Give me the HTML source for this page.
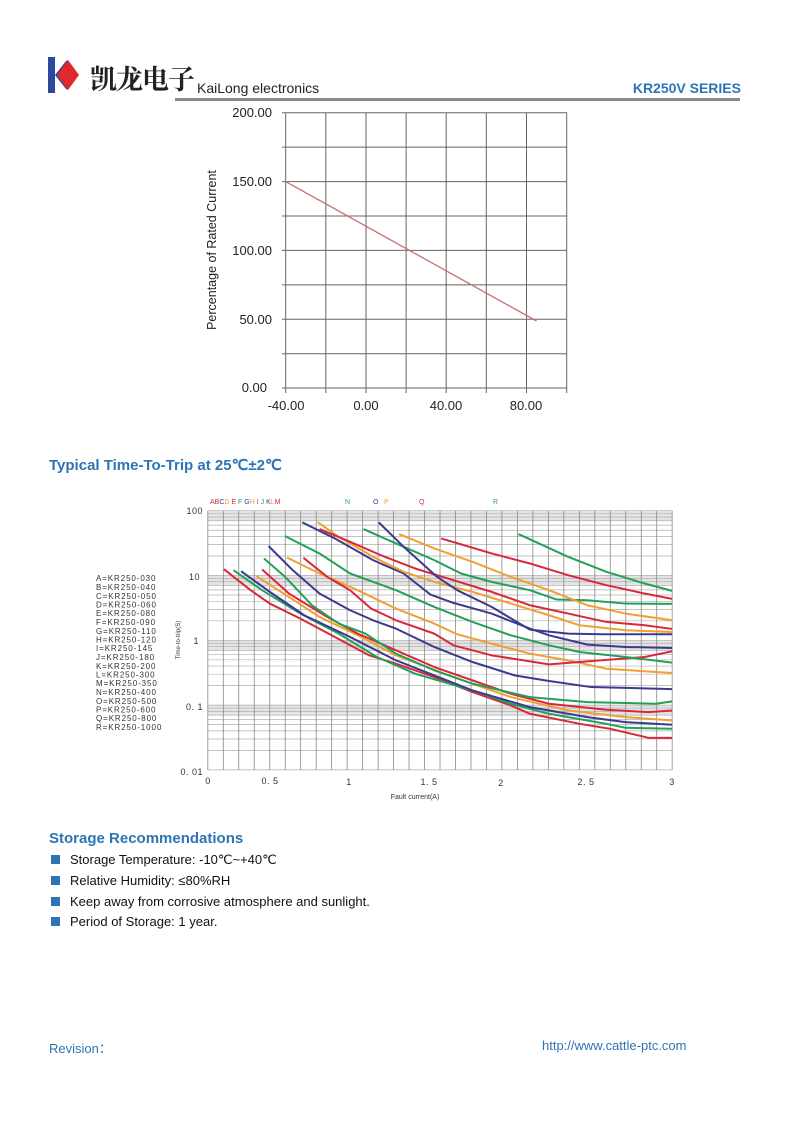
<!DOCTYPE html>
<html><head><meta charset="utf-8"><style>
body{margin:0;background:#fff}
#p{position:relative;width:793px;height:1122px;overflow:hidden;font-family:"Liberation Sans",Arial,sans-serif;background:#fff}
.a{position:absolute;white-space:nowrap}
.h{color:#2e74b5;font-weight:bold;font-size:15px}
.b{font-size:13px;color:#111}
.sq{position:absolute;width:9px;height:9px;background:#2e74b5}
</style></head><body><div id="p">
<svg class="a" style="left:46px;top:56px" width="34" height="38"><rect x="2" y="1" width="7" height="36" fill="#2b4a9e"/><polygon points="9,19 22,4 33,19 22,34" fill="#e0282e"/><polygon points="9,19 20,5 22,4 11,19 22,34 20,33" fill="#2b4a9e"/></svg>
<div class="a" style="left:90px;top:58px;font-size:27px;font-weight:bold;font-family:'Noto Serif CJK SC','Noto Sans CJK SC',serif;color:#222;letter-spacing:-1px">凯龙电子</div>
<div class="a" style="left:197px;top:80px;font-size:14px;color:#222">KaiLong electronics</div>
<div class="a" style="right:52px;top:80px;font-size:14px;font-weight:bold;color:#2e74b5">KR250V SERIES</div>
<div class="a" style="left:175px;top:98px;width:565px;height:3px;background:#8a8a8a"></div>

<svg class="a" style="left:0;top:0" width="793" height="440">
<g stroke="#666" stroke-width="1" fill="none">
<path d="M282 112.7H567M282 147.1H567M282 181.6H567M282 216H567M282 250.4H567M282 284.9H567M282 319.3H567M282 353.7H567M282 388H567"/>
<path d="M285.7 112.7V393M325.8 112.7V393M366 112.7V393M406.1 112.7V393M446.2 112.7V393M486.3 112.7V393M526.5 112.7V393M566.7 112.7V393"/>
</g>
<line x1="285.7" y1="181.6" x2="536.5" y2="321" stroke="#c9706e" stroke-width="1.3"/>
<g font-size="13" fill="#222" text-anchor="end">
<text x="272" y="117">200.00</text><text x="272" y="186">150.00</text><text x="272" y="255">100.00</text><text x="272" y="324">50.00</text><text x="267" y="392">0.00</text>
</g>
<g font-size="13" fill="#222" text-anchor="middle">
<text x="286" y="410">-40.00</text><text x="366" y="410">0.00</text><text x="446" y="410">40.00</text><text x="526" y="410">80.00</text>
</g>
<text transform="translate(216,250) rotate(-90)" font-size="12.5" fill="#222" text-anchor="middle">Percentage of Rated Current</text>
</svg>

<div class="a h" style="left:49px;top:456px">Typical Time-To-Trip at 25℃±2℃</div>

<svg class="a" style="left:0;top:0" width="793" height="820">
<g transform="matrix(0.3825,0,0,0.334,90,490)">
<g fill="#e4e4e4">
<rect x="308" y="62" width="1214" height="30"/><rect x="308" y="256" width="1214" height="30"/><rect x="308" y="450" width="1214" height="30"/><rect x="308" y="644" width="1214" height="30"/>
</g>
<g fill="none">
<path vector-effect="non-scaling-stroke" stroke="#b0b0b0" stroke-width="0.7" d="M308 62H1522M308 70.9H1522M308 80.8H1522M308 92.1H1522M308 105.1H1522M308 120.4H1522M308 139.2H1522M308 163.5H1522M308 197.6H1522M308 256H1522M308 264.9H1522M308 274.8H1522M308 286.1H1522M308 299.1H1522M308 314.4H1522M308 333.2H1522M308 357.5H1522M308 391.6H1522M308 450H1522M308 458.9H1522M308 468.8H1522M308 480.1H1522M308 493.1H1522M308 508.4H1522M308 527.2H1522M308 551.5H1522M308 585.6H1522M308 644H1522M308 652.9H1522M308 662.8H1522M308 674.1H1522M308 687.1H1522M308 702.4H1522M308 721.2H1522M308 745.5H1522M308 779.6H1522M308 838H1522"/>
<path vector-effect="non-scaling-stroke" stroke-width="0.8" stroke="#888" d="M308 62V838M348.5 62V838M388.9 62V838M429.4 62V838M469.9 62V838M510.4 62V838M550.8 62V838M591.3 62V838M631.8 62V838M672.2 62V838M712.7 62V838M753.2 62V838M793.6 62V838M834.1 62V838M874.6 62V838M915.1 62V838M955.5 62V838M996 62V838M1036.5 62V838M1076.9 62V838M1117.4 62V838M1157.9 62V838M1198.3 62V838M1238.8 62V838M1279.3 62V838M1319.8 62V838M1360.2 62V838M1400.7 62V838M1441.2 62V838M1481.6 62V838M1522 62V838"/>
</g>
<g fill="none" stroke-width="2" stroke-linejoin="round">
<polyline vector-effect="non-scaling-stroke" stroke="#d8283a" points="350,237 420,300 470,340 550,385 640,440 730,495 800,520 900,560 1000,605 1100,645 1150,670 1280,700 1360,715 1460,742 1522,742"/>
<polyline vector-effect="non-scaling-stroke" stroke="#22a05a" points="375,240 450,300 550,370 650,430 750,500 850,550 1000,600 1100,640 1200,670 1350,700 1400,712 1522,715"/>
<polyline vector-effect="non-scaling-stroke" stroke="#3b3a8f" points="395,243 470,305 560,375 680,440 800,510 900,555 1000,600 1150,650 1300,680 1400,695 1522,703"/>
<polyline vector-effect="non-scaling-stroke" stroke="#f0a030" points="435,258 520,320 600,380 700,435 800,495 950,560 1100,620 1250,660 1400,680 1522,690"/>
<polyline vector-effect="non-scaling-stroke" stroke="#d8283a" points="450,238 520,310 620,380 700,430 800,480 900,530 1000,570 1100,610 1200,640 1350,658 1460,665 1522,660"/>
<polyline vector-effect="non-scaling-stroke" stroke="#22a05a" points="455,205 510,260 580,345 650,400 720,430 800,490 900,540 1000,580 1150,620 1300,635 1480,640 1522,633"/>
<polyline vector-effect="non-scaling-stroke" stroke="#3b3a8f" points="467,168 530,240 600,310 680,360 740,390 800,415 900,470 1000,515 1110,555 1200,572 1310,590 1522,596"/>
<polyline vector-effect="non-scaling-stroke" stroke="#f0a030" points="515,202 600,250 700,300 800,355 900,400 960,432 1050,460 1150,490 1250,510 1350,535 1522,548"/>
<polyline vector-effect="non-scaling-stroke" stroke="#d8283a" points="558,203 620,260 680,300 735,355 800,390 900,430 950,465 1050,495 1200,522 1300,513 1450,500 1522,483"/>
<polyline vector-effect="non-scaling-stroke" stroke="#22a05a" points="510,138 600,190 680,250 800,300 900,350 1000,395 1100,435 1200,465 1280,485 1400,500 1522,517"/>
<polyline vector-effect="non-scaling-stroke" stroke="#3b3a8f" points="555,97 640,145 740,210 820,250 890,313 950,338 1050,370 1150,415 1200,435 1300,463 1400,470 1522,473"/>
<polyline vector-effect="non-scaling-stroke" stroke="#f0a030" points="595,96 650,140 740,200 820,245 900,275 1000,305 1100,340 1200,375 1280,405 1400,420 1522,425"/>
<polyline vector-effect="non-scaling-stroke" stroke="#d8283a" points="600,117 680,155 760,195 850,235 950,270 1050,305 1150,345 1250,370 1350,395 1450,405 1522,416"/>
<polyline vector-effect="non-scaling-stroke" stroke="#22a05a" points="715,117 800,160 900,210 970,250 1050,275 1150,300 1220,328 1300,330 1400,340 1522,341"/>
<polyline vector-effect="non-scaling-stroke" stroke="#3b3a8f" points="755,97 820,170 905,258 960,300 1050,350 1150,418 1250,430 1340,432 1522,432"/>
<polyline vector-effect="non-scaling-stroke" stroke="#f0a030" points="808,132 900,175 1000,215 1100,260 1200,300 1300,345 1400,370 1522,390"/>
<polyline vector-effect="non-scaling-stroke" stroke="#d8283a" points="918,145 1050,190 1150,220 1250,255 1350,285 1450,310 1522,326"/>
<polyline vector-effect="non-scaling-stroke" stroke="#22a05a" points="1120,132 1250,200 1350,245 1450,280 1522,302"/>
</g>
</g>
<g font-size="7">
<text x="210" y="504"><tspan fill="#d8283a">A</tspan><tspan fill="#d8283a">B</tspan><tspan fill="#3b3a8f">C</tspan><tspan fill="#f0a030">D</tspan><tspan fill="#d8283a"> E</tspan><tspan fill="#22a05a">  F</tspan><tspan fill="#3b3a8f">  G</tspan><tspan fill="#f0a030">H</tspan><tspan fill="#d8283a">  I</tspan><tspan fill="#22a05a"> J</tspan><tspan fill="#3b3a8f">  K</tspan><tspan fill="#f0a030">L</tspan><tspan fill="#d8283a">M</tspan></text>
<text x="345" y="504" fill="#22a05a">N</text><text x="373" y="504" fill="#3b3a8f">O</text><text x="384" y="504" fill="#f0a030">P</text><text x="419" y="504" fill="#d8283a">Q</text><text x="493" y="504" fill="#22a05a">R</text>
</g>
<g font-size="9" fill="#333" text-anchor="end" letter-spacing="0.5">
<text x="203" y="514">100</text><text x="200" y="580">10</text><text x="199" y="644">1</text><text x="203" y="710">0. 1</text><text x="203" y="775">0. 01</text>
</g>
<g font-size="9" fill="#333" text-anchor="middle" letter-spacing="0.5">
<text x="208" y="784">0</text><text x="270" y="784">0. 5</text><text x="349" y="785">1</text><text x="429" y="785">1. 5</text><text x="501" y="786">2</text><text x="586" y="785">2. 5</text><text x="672" y="785">3</text>
</g>
<text x="415" y="799" font-size="7" fill="#333" text-anchor="middle">Fault current(A)</text>
<text transform="translate(180,640) rotate(-90)" font-size="6" fill="#333" text-anchor="middle">Time-to-trip(S)</text>
<g font-size="8" fill="#333" letter-spacing="0.9">
<text x="96" y="581">A=KR250-030</text><text x="96" y="590">B=KR250-040</text><text x="96" y="599">C=KR250-050</text><text x="96" y="607.5">D=KR250-060</text><text x="96" y="616">E=KR250-080</text><text x="96" y="625">F=KR250-090</text><text x="96" y="634">G=KR250-110</text><text x="96" y="642.5">H=KR250-120</text><text x="96" y="651">I=KR250-145</text><text x="96" y="660">J=KR250-180</text><text x="96" y="669">K=KR250-200</text><text x="96" y="677.5">L=KR250-300</text><text x="96" y="686">M=KR250-350</text><text x="96" y="695">N=KR250-400</text><text x="96" y="704">O=KR250-500</text><text x="96" y="712.5">P=KR250-600</text><text x="96" y="721">Q=KR250-800</text><text x="96" y="730">R=KR250-1000</text>
</g>
</svg>

<div class="a h" style="left:49px;top:830px">Storage Recommendations</div>
<div class="sq" style="left:51px;top:855px"></div><div class="a b" style="left:70px;top:852px">Storage Temperature: -10℃~+40℃</div>
<div class="sq" style="left:51px;top:876px"></div><div class="a b" style="left:70px;top:873px">Relative Humidity: ≤80%RH</div>
<div class="sq" style="left:51px;top:897px"></div><div class="a b" style="left:70px;top:894px">Keep away from corrosive atmosphere and sunlight.</div>
<div class="sq" style="left:51px;top:917px"></div><div class="a b" style="left:70px;top:914px">Period of Storage: 1 year.</div>

<div class="a" style="left:49px;top:1038px;font-size:13px;color:#2e74b5">Revision：</div>
<div class="a" style="left:542px;top:1038px;font-size:13px;color:#2e74b5">http://www.cattle-ptc.com</div>
</div></body></html>
